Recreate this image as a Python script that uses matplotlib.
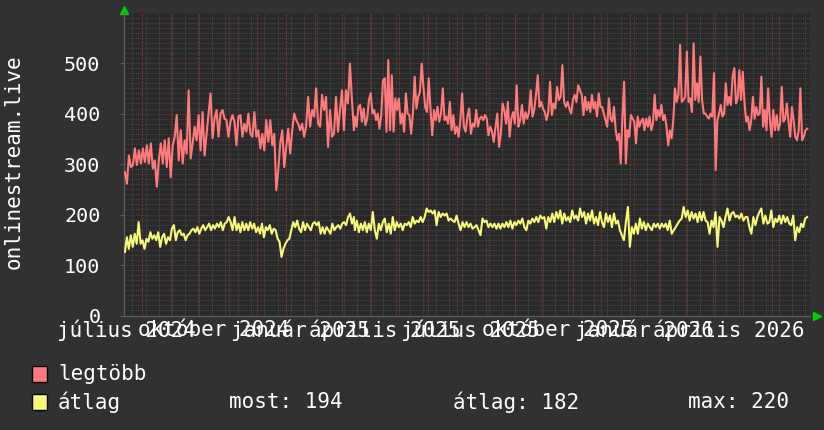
import numpy as np
import matplotlib.pyplot as plt
import matplotlib.dates as mdates
from matplotlib.patches import Rectangle

# időtartomány
start = np.datetime64('2024-07-13')
end = np.datetime64('2026-07-11')

# a leolvasott szakaszok kezdő / záró napja (start óta)
seg_days = [(1, 244), (245, 482), (484, 725)]

# legtöbb (max) - három szakaszban
max_a = [284, 261, 317, 294, 298, 331, 298, 327, 301, 331, 304, 337, 301, 341, 291, 307, 255, 307, 341, 301,
         347, 294, 351, 274, 337, 354, 397, 307, 367, 301, 347, 321, 446, 311, 341, 374, 347, 397, 327, 403,
         317, 360, 400, 440, 351, 390, 407, 354, 400, 407, 390, 387, 354, 384, 397, 384, 337, 394, 397, 354,
         380, 364, 400, 360, 354, 403, 354, 367, 331, 360, 327, 387, 344, 387, 337, 360, 248, 288, 341, 367,
         294, 334, 370, 321, 367, 400, 387, 380, 367, 380, 354, 374, 433, 374, 407, 394, 450, 380, 374, 437,
         407, 433, 334, 407, 354, 360, 433, 364, 407, 446, 367, 446, 420, 499, 427, 367]
max_b = [394, 374, 413, 417, 384, 410, 377, 390, 427, 440, 400, 407, 387, 400, 370, 397, 466, 470, 364, 506,
         367, 476, 364, 430, 407, 430, 380, 400, 364, 440, 400, 397, 360, 400, 473, 410, 433, 443, 499, 453,
         413, 403, 470, 410, 357, 407, 387, 413, 384, 400, 450, 387, 394, 380, 423, 367, 397, 360, 374, 354,
         387, 440, 374, 364, 394, 410, 360, 380, 374, 407, 374, 390, 394, 387, 397, 390, 357, 374, 364, 344,
         374, 400, 334, 360, 420, 407, 380, 423, 354, 390, 403, 380, 456, 374, 387, 417, 380, 403, 390, 403,
         446, 394, 407, 437, 476, 413, 423, 410, 403, 387, 403, 463, 397, 420, 410, 453, 427, 433, 496, 423,
         413, 423, 410, 400, 427, 437, 423, 456]
max_c = [446, 437, 397, 433, 407, 423, 403, 437, 410, 423, 394, 440, 413, 413, 400, 387, 374, 430, 390, 384,
         413, 367, 347, 360, 301, 394, 463, 301, 367, 354, 397, 390, 384, 341, 394, 374, 384, 390, 367, 390,
         374, 394, 367, 380, 437, 387, 407, 394, 417, 387, 397, 374, 337, 367, 351, 387, 450, 423, 437, 536,
         423, 427, 433, 523, 423, 430, 403, 539, 427, 460, 423, 513, 427, 400, 400, 394, 390, 400, 394, 480,
         288, 387, 400, 417, 394, 400, 460, 417, 433, 417, 473, 490, 420, 430, 486, 427, 483, 423, 384, 394,
         367, 387, 433, 390, 413, 397, 400, 473, 374, 407, 367, 450, 387, 354, 407, 367, 397, 367, 380, 453,
         384, 390, 420, 384, 354, 413, 387, 354, 347, 367, 450, 347, 354, 367, 370]

# átlag - három szakaszban
avg_a = [126, 155, 132, 159, 136, 162, 142, 185, 142, 149, 132, 152, 146, 165, 152, 159, 149, 165, 136, 155,
         162, 142, 155, 149, 172, 179, 149, 165, 169, 159, 162, 149, 159, 162, 169, 172, 165, 175, 162, 172,
         179, 169, 175, 182, 169, 179, 172, 182, 175, 185, 169, 182, 185, 195, 185, 169, 195, 169, 182, 165,
         185, 169, 182, 169, 185, 172, 182, 165, 175, 162, 182, 155, 175, 169, 179, 162, 172, 169, 152, 146,
         116, 132, 142, 149, 152, 169, 185, 175, 188, 172, 165, 185, 169, 182, 175, 169, 182, 185, 179, 185,
         162, 175, 162, 175, 169, 162, 182, 169, 175, 179, 172, 182, 185, 179, 195, 202, 182, 195]
avg_b = [169, 188, 165, 182, 169, 185, 165, 182, 169, 205, 169, 152, 182, 169, 185, 192, 165, 182, 162, 195,
         169, 185, 175, 182, 169, 182, 179, 185, 175, 195, 182, 188, 185, 195, 185, 195, 212, 205, 208, 202,
         208, 179, 205, 195, 202, 198, 202, 188, 192, 188, 185, 198, 182, 169, 185, 175, 185, 175, 182, 172,
         175, 179, 169, 159, 192, 185, 188, 175, 182, 175, 182, 172, 182, 172, 182, 175, 185, 175, 188, 172,
         185, 179, 188, 182, 192, 175, 169, 188, 182, 192, 185, 195, 185, 198, 192, 195, 172, 195, 185, 202,
         185, 205, 192, 208, 182, 202, 188, 195, 185, 208, 192, 198, 188]
avg_c = [212, 195, 205, 182, 202, 188, 208, 182, 195, 179, 205, 185, 175, 202, 185, 198, 175, 202, 182, 188,
         169, 159, 149, 185, 215, 136, 175, 162, 182, 162, 192, 172, 185, 169, 182, 175, 169, 182, 175, 182,
         172, 182, 175, 182, 169, 188, 162, 169, 175, 182, 188, 192, 215, 195, 208, 188, 205, 192, 202, 185,
         205, 188, 205, 188, 185, 162, 188, 175, 205, 136, 195, 188, 175, 195, 212, 188, 202, 205, 195, 198,
         192, 202, 188, 195, 195, 175, 162, 195, 179, 195, 205, 212, 182, 198, 182, 185, 208, 175, 192, 185,
         198, 182, 198, 185, 195, 182, 179, 198, 149, 175, 165, 182, 175, 192, 195]

label_months = ['2024-07', '2024-10', '2025-01', '2025-04', '2025-07', '2025-10', '2026-01', '2026-04']
label_texts = ['július 2024', 'október 2024', 'január 2025', 'április 2025',
               'július 2025', 'október 2025', 'január 2026', 'április 2026']
y_ticks = [0, 100, 200, 300, 400, 500]

stat_texts = ['most: 194', 'átlag: 182', 'max: 220']

BG = '#313131'
PLOT_BG = '#292929'
RED = '#ff7b7b'
YELLOW = '#f8f87a'
MONO = 'DejaVu Sans Mono'


def seg_x(segments):
    t0 = mdates.date2num(start)
    xs, ys = [], []
    for (d0, d1), vals in zip(seg_days, segments):
        xs.append(t0 + np.linspace(d0, d1, len(vals)))
        ys.append(np.array(vals, dtype=float))
    return np.concatenate(xs), np.concatenate(ys)


fig = plt.figure(figsize=(8.24, 4.30), dpi=100, facecolor=BG)
ax = fig.add_axes([124 / 824, 1 - 315.5 / 430, 686 / 824, (315.5 - 12.6) / 430])
ax.set_facecolor(PLOT_BG)

x0 = mdates.date2num(start)
x1 = mdates.date2num(end)
ax.set_xlim(x0, x1)
ax.set_ylim(0, 600)

# rács
for v in range(10, 600, 10):
    if v % 100:
        ax.hlines(v, x0, x1, colors='#454545', linewidth=0.7, linestyles=(0, (1, 1)), zorder=1)
for t in np.arange(np.datetime64('2024-07-22'), end, np.timedelta64(14, 'D')):
    ax.vlines(mdates.date2num(t), 0, 600, colors='#4a4a4a', linewidth=0.7, linestyles=(0, (1, 1)), zorder=1)
for v in range(100, 600, 100):
    ax.hlines(v, x0, x1, colors='#6a3535', linewidth=0.8, linestyles=(0, (1, 1)), zorder=1.5)
for t in np.arange(np.datetime64('2024-08'), np.datetime64('2026-07'), np.timedelta64(1, 'M')):
    ax.vlines(mdates.date2num(t.astype('datetime64[D]')), 0, 600, colors='#6a3535', linewidth=0.8,
              linestyles=(0, (2, 1)), zorder=1.5)

mx, my = seg_x([max_a, max_b, max_c])
ax_, ay = seg_x([avg_a, avg_b, avg_c])
ax.plot(mx, my, color=RED, linewidth=1.5, zorder=3)
ax.plot(ax_, ay, color=YELLOW, linewidth=1.5, zorder=3)

# tengelyek
for s in ['top', 'right']:
    ax.spines[s].set_visible(False)
for s in ['left', 'bottom']:
    ax.spines[s].set_color('#5a5a5a')
    ax.spines[s].set_linewidth(1)

label_pos = [mdates.date2num(np.datetime64(m + '-01') + np.timedelta64(15, 'D')) for m in label_months]
ax.set_xticks(label_pos)
ax.set_xticklabels(label_texts, fontfamily=MONO, fontsize=15, color='white')
ax.tick_params(axis='x', length=0, pad=3)
ax.set_yticks(y_ticks)
ax.set_yticklabels([str(v) for v in y_ticks], fontfamily=MONO, fontsize=14.5, color='white')
ax.tick_params(axis='y', length=3, color='#5a5a5a', pad=14)

fig.text(14 / 824, 1 - 162 / 430, 'onlinestream.live', rotation=90, ha='center', va='center',
         fontfamily=MONO, fontsize=15, color='white')

# nyilak
ax.plot([0], [1.01], marker='^', color='#00d000', markersize=6, transform=ax.transAxes, clip_on=False)
ax.plot([1.01], [0], marker='>', color='#00d000', markersize=6, transform=ax.transAxes, clip_on=False)

# jelmagyarázat
for yc, col in [(374, RED), (402, YELLOW)]:
    fig.patches.append(Rectangle((32 / 824, 1 - (yc + 8) / 430), 15 / 824, 16 / 430,
                                 transform=fig.transFigure, facecolor=col, edgecolor='black',
                                 linewidth=1))
fig.text(58 / 824, 1 - 374 / 430, 'legtöbb', va='center', fontfamily=MONO, fontsize=15, color='white')
fig.text(58 / 824, 1 - 402 / 430, 'átlag', va='center', fontfamily=MONO, fontsize=15, color='white')
for xp, txt in zip([229, 453, 688], stat_texts):
    fig.text(xp / 824, 1 - 402 / 430, txt, va='center', fontfamily=MONO, fontsize=15, color='white')

fig.savefig('out.png', dpi=100, facecolor=BG)
